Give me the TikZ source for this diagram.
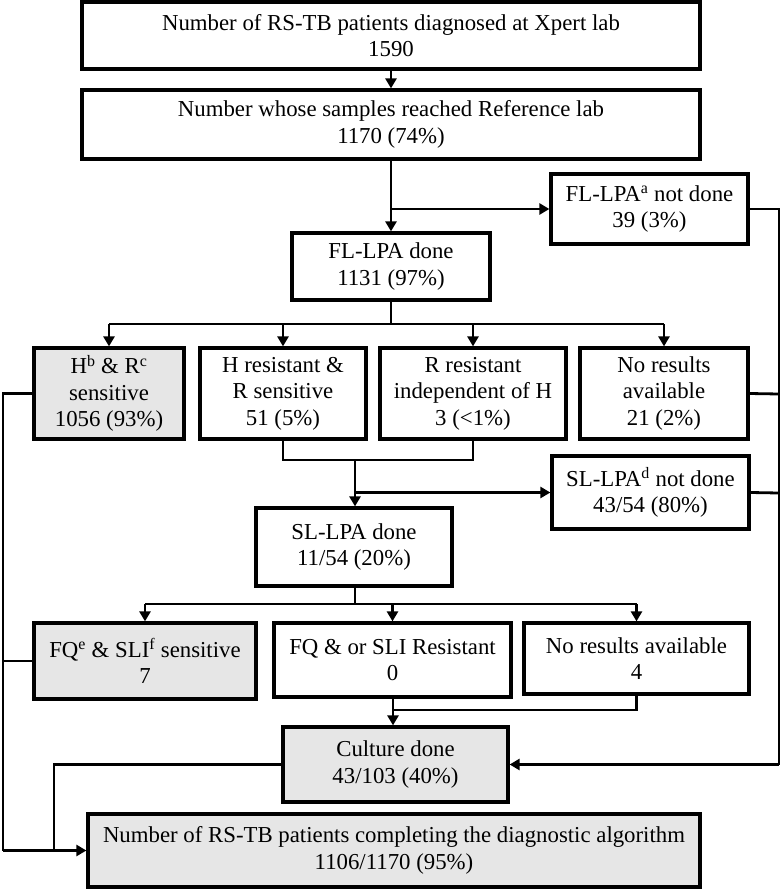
\documentclass[tikz,border=0pt]{standalone}
\usepackage{fontspec}
\setmainfont{Liberation Serif}
\usetikzlibrary{arrows.meta}
\definecolor{boxgray}{HTML}{E6E6E6}
\begin{document}
\begin{tikzpicture}[x=1pt,y=-1pt,
  box/.style={draw=black, line width=3.2pt, fill=white, align=center, inner sep=0pt,
    font=\fontsize{22.8}{26.5}\selectfont},
  gbox/.style={box, fill=boxgray},
  conn/.style={line width=2.8pt},
  arr/.style={line width=2.8pt, -{Triangle[length=10pt,width=11pt]}}]
\useasboundingbox (0,0) rectangle (781,889);
% nodes
\node[box, minimum width=618pt, minimum height=67pt] (top) at (391,35.5)
  {Number of RS-TB patients diagnosed at Xpert lab\\1590};
\node[box, minimum width=618pt, minimum height=69pt] (ref) at (391,124.5)
  {Number whose samples reached Reference lab\\1170 (74\%)};
\node[box, minimum width=197pt, minimum height=70pt] (flnot) at (649.5,209)
  {FL-LPA\textsuperscript{a} not done\\39 (3\%)};
\node[box, minimum width=198pt, minimum height=67pt] (fldone) at (391,266.5)
  {FL-LPA done\\1131 (97\%)};
\node[gbox, minimum width=150pt, minimum height=91pt] (hr) at (109,393.5)
  {H\textsuperscript{b} \& R\textsuperscript{c}\\sensitive\\1056 (93\%)};
\node[box, minimum width=166pt, minimum height=91pt] (hres) at (283,393.5)
  {H resistant \&\\R sensitive\\51 (5\%)};
\node[box, minimum width=186pt, minimum height=91pt] (rres) at (473,393.5)
  {R resistant\\independent of H\\3 (<1\%)};
\node[box, minimum width=168pt, minimum height=91pt] (nores) at (664,393.5)
  {No results\\available\\21 (2\%)};
\node[box, minimum width=197pt, minimum height=73pt] (slnot) at (650.5,492.5)
  {SL-LPA\textsuperscript{d} not done\\43/54 (80\%)};
\node[box, minimum width=196pt, minimum height=78pt] (sldone) at (354,547)
  {SL-LPA done\\11/54 (20\%)};
\node[gbox, minimum width=222pt, minimum height=76pt] (fq) at (145,661)
  {FQ\textsuperscript{e} \& SLI\textsuperscript{f} sensitive\\7};
\node[box, minimum width=237pt, minimum height=74pt] (fqres) at (392.5,660)
  {FQ \& or SLI Resistant\\0};
\node[box, minimum width=225pt, minimum height=71pt] (nores2) at (636.5,658.5)
  {No results available\\4};
\node[gbox, minimum width=225pt, minimum height=75pt] (culture) at (395.5,764.5)
  {Culture done\\43/103 (40\%)};
\node[gbox, minimum width=612pt, minimum height=73pt] (final) at (394,850.5)
  {Number of RS-TB patients completing the diagnostic algorithm\\1106/1170 (95\%)};
% coordinates
\coordinate (b1) at (391,209);
\coordinate (r1) at (779,209);
\coordinate (r2) at (779,394);
\coordinate (r3) at (779,493);
\coordinate (r4) at (779,764.5);
\coordinate (f1) at (391,324);
\coordinate (f1l) at (109,324);
\coordinate (f1r) at (664,324);
\coordinate (m1) at (283,460);
\coordinate (m2) at (473,460);
\coordinate (m3) at (355,460);
\coordinate (b2) at (355,492.5);
\coordinate (s1) at (355,604);
\coordinate (s1l) at (145,604);
\coordinate (s1r) at (636.5,604);
\coordinate (n1) at (636.5,710);
\coordinate (n2) at (393,710);
\coordinate (l1) at (3,393.5);
\coordinate (l2) at (3,661);
\coordinate (l3) at (3,850.5);
\coordinate (c1) at (54,764.5);
\coordinate (c2) at (54,850.5);
% connectors
\draw[arr] (top) -- (ref);
\draw[arr] (ref) -- (fldone);
\draw[arr] (b1) -- (flnot.west);
\draw[conn] (flnot.east) -- (r1) -- (r4);
\draw[arr] (r4) -- (culture.east);
\draw[conn] (nores.east) -- (r2);
\draw[conn] (slnot.east) -- (r3);
\draw[conn] (fldone.south) -- (f1);
\draw[conn] (f1l) -- (f1r);
\draw[arr] (f1l) -- (hr.north);
\draw[arr] (hres.north |- f1) -- (hres.north);
\draw[arr] (rres.north |- f1) -- (rres.north);
\draw[arr] (f1r) -- (nores.north);
\draw[conn] (hres.south) -- (m1) -- (m2) -- (rres.south);
\draw[arr] (m3) -- (sldone.north -| m3);
\draw[arr] (b2) -- (slnot.west);
\draw[conn] (sldone.south -| s1) -- (s1);
\draw[conn] (s1l) -- (s1r);
\draw[arr] (s1l) -- (fq.north);
\draw[arr] (fqres.north |- s1) -- (fqres.north);
\draw[arr] (s1r) -- (nores2.north);
\draw[arr] (fqres.south -| n2) -- (culture.north -| n2);
\draw[conn] (nores2.south) -- (n1) -- (n2);
\draw[conn] (hr.west) -- (l1) -- (l3);
\draw[conn] (fq.west) -- (l2);
\draw[arr] (l3) -- (final.west);
\draw[conn] (culture.west) -- (c1) -- (c2);
\end{tikzpicture}
\end{document}
